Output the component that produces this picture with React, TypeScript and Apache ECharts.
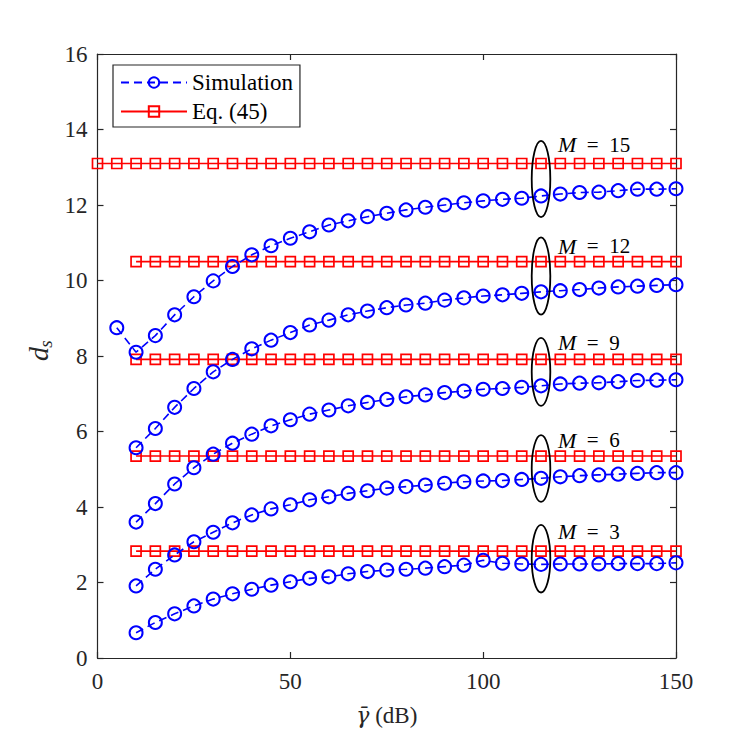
import React, { useEffect, useRef } from "react";
import * as echarts from "echarts";

const FONT = "Liberation Serif";

// x grid for the simulation curves (M = 15 also has a point at 5)
const simX = [10, 15, 20, 25, 30, 35, 40, 45, 50, 55, 60, 65, 70, 75, 80, 85, 90, 95, 100, 105, 110, 115, 120, 125, 130, 135, 140, 145, 150];
const simX15 = [5, 10, 15, 20, 25, 30, 35, 40, 45, 50, 55, 60, 65, 70, 75, 80, 85, 90, 95, 100, 105, 110, 115, 120, 125, 130, 135, 140, 145, 150];

const simM3 = [0.67, 0.94, 1.17, 1.38, 1.56, 1.70, 1.82, 1.93, 2.02, 2.11, 2.15, 2.23, 2.29, 2.33, 2.35, 2.38, 2.42, 2.46, 2.59, 2.51, 2.49, 2.48, 2.49, 2.49, 2.49, 2.50, 2.50, 2.50, 2.52];
const simM6 = [1.91, 2.35, 2.73, 3.08, 3.33, 3.58, 3.79, 3.95, 4.06, 4.19, 4.27, 4.36, 4.43, 4.50, 4.54, 4.58, 4.63, 4.67, 4.69, 4.70, 4.73, 4.76, 4.80, 4.83, 4.85, 4.87, 4.89, 4.91, 4.91];
const simM9 = [3.60, 4.09, 4.61, 5.04, 5.40, 5.69, 5.93, 6.15, 6.31, 6.46, 6.57, 6.68, 6.77, 6.85, 6.92, 6.97, 7.03, 7.07, 7.12, 7.14, 7.17, 7.21, 7.26, 7.28, 7.29, 7.32, 7.35, 7.36, 7.37];
const simM12 = [5.57, 6.08, 6.64, 7.14, 7.58, 7.91, 8.19, 8.42, 8.62, 8.82, 8.95, 9.09, 9.19, 9.28, 9.35, 9.40, 9.48, 9.54, 9.59, 9.62, 9.66, 9.70, 9.73, 9.76, 9.80, 9.83, 9.85, 9.87, 9.89];
const simM15 = [8.75, 8.10, 8.54, 9.09, 9.57, 9.99, 10.37, 10.68, 10.92, 11.12, 11.29, 11.47, 11.58, 11.69, 11.78, 11.87, 11.94, 12.00, 12.06, 12.11, 12.15, 12.18, 12.24, 12.29, 12.33, 12.34, 12.38, 12.42, 12.42, 12.43];

// Eq. (45): constant values per M, sampled on the grid below
const eqX = [0, 5, 10, 15, 20, 25, 30, 35, 40, 45, 50, 55, 60, 65, 70, 75, 80, 85, 90, 95, 100, 105, 110, 115, 120, 125, 130, 135, 140, 145, 150];
const mValues = ["3", "6", "9", "12", "15"];
const eqValues = [2.83, 5.35, 7.91, 10.50, 13.10];
const eqStartX = [10, 10, 10, 10, 0];

// annotation ellipses (data coords) and labels
const ellipseX = [115, 115, 115, 115, 115];
const ellipseY = [2.63, 5.02, 7.58, 10.12, 12.69];
const ellipseH = [1.79, 1.77, 1.80, 2.05, 2.02];
const labelX = [119.4, 119.4, 119.4, 119.4, 119.4];
const labelY = [3.35, 5.77, 8.35, 10.91, 13.59];

const xTicks = { min: 0, max: 150, interval: 50 };
const yTicks = { min: 0, max: 16, interval: 2 };

const AXIS = "#262626";
const BLUE = "#0000ff";
const RED = "#ff0000";

export default function App() {
  const ref = useRef<HTMLDivElement>(null);
  useEffect(() => {
    if (!ref.current) return;
    const chart = echarts.init(ref.current, null, { renderer: "svg" });

    const simSets: [number[], number[]][] = [
      [simX, simM3],
      [simX, simM6],
      [simX, simM9],
      [simX, simM12],
      [simX15, simM15],
    ];

    const eqSeries = eqValues.map((v, i) => ({
      type: "line",
      name: "Eq. (45)",
      data: eqX.filter((x) => x >= eqStartX[i]).map((x) => [x, v]),
      symbol: "rect",
      symbolSize: 10,
      showAllSymbol: true,
      lineStyle: { color: RED, width: 1.6 },
      itemStyle: { color: "rgba(0,0,0,0)", borderColor: RED, borderWidth: 1.7 },
      emphasis: { disabled: true },
      z: 2,
    }));

    const simSeries = simSets.map(([xs, ys]) => ({
      type: "line",
      name: "Simulation",
      data: xs.map((x, j) => [x, ys[j]]),
      symbol: "circle",
      symbolSize: 13,
      showAllSymbol: true,
      lineStyle: { color: BLUE, width: 1.6, type: [8, 5] },
      itemStyle: { color: "rgba(0,0,0,0)", borderColor: BLUE, borderWidth: 2 },
      emphasis: { disabled: true },
      z: 3,
    }));

    const ellipseSeries = {
      type: "custom",
      name: "ellipses",
      coordinateSystem: "cartesian2d",
      data: ellipseX.map((x, i) => [x, ellipseY[i], ellipseH[i]]),
      renderItem: (params: any, api: any) => {
        const c = api.coord([api.value(0), api.value(1)]);
        const t = api.coord([api.value(0), api.value(1) + api.value(2) / 2]);
        return {
          type: "ellipse",
          shape: { cx: c[0], cy: c[1], rx: 9.3, ry: c[1] - t[1] },
          style: { fill: "none", stroke: "#000", lineWidth: 1.8 },
        };
      },
      z: 4,
      silent: true,
    };

    const labelSeries = {
      type: "custom",
      name: "labels",
      coordinateSystem: "cartesian2d",
      data: labelX.map((x, i) => [x, labelY[i]]),
      renderItem: (params: any, api: any) => {
        const c = api.coord([api.value(0), api.value(1)]);
        const m = mValues[params.dataIndex];
        return {
          type: "text",
          x: c[0],
          y: c[1],
          style: {
            text: "{m|M}  =  " + m,
            rich: { m: { fontStyle: "italic", fontFamily: FONT, fontSize: 22, fill: "#000" } },
            fontFamily: FONT,
            fontSize: 21,
            fill: "#000",
            align: "left",
            verticalAlign: "middle",
          },
        };
      },
      z: 5,
      silent: true,
    };

    const baseAxis = {
      type: "value",
      axisLine: { show: true, onZero: false, lineStyle: { color: AXIS, width: 1.2 } },
      axisTick: { show: true, inside: true, length: 6, lineStyle: { color: AXIS, width: 1.2 } },
      splitLine: { show: false },
    };

    chart.setOption({
      animation: false,
      backgroundColor: "#fff",
      grid: { left: 97.5, right: 71, top: 54, bottom: 81, containLabel: false },
      xAxis: [
        {
          ...baseAxis,
          ...xTicks,
          position: "bottom",
          axisLabel: { fontFamily: FONT, fontSize: 23, color: AXIS, margin: 12 },
          name: "{g|γ̄} (dB)",
          nameLocation: "middle",
          nameGap: 46,
          nameTextStyle: {
            fontFamily: FONT,
            fontSize: 23,
            color: AXIS,
            rich: { g: { fontFamily: "DejaVu Serif", fontSize: 22, fontStyle: "italic", color: AXIS } },
          },
        },
        { ...baseAxis, ...xTicks, position: "top", axisLabel: { show: false } },
      ],
      yAxis: [
        {
          ...baseAxis,
          ...yTicks,
          position: "left",
          axisLabel: { fontFamily: FONT, fontSize: 23, color: AXIS, margin: 10 },
        },
        { ...baseAxis, ...yTicks, position: "right", axisLabel: { show: false } },
      ],
      legend: {
        data: ["Simulation", "Eq. (45)"],
        orient: "vertical",
        left: 113,
        top: 65,
        itemWidth: 66,
        itemHeight: 13,
        itemGap: 6,
        padding: [6, 7, 4, 7],
        borderColor: AXIS,
        borderWidth: 1.2,
        backgroundColor: "#fff",
        selectedMode: false,
        textStyle: { fontFamily: FONT, fontSize: 23, color: "#000" },
      },
      graphic: [
        {
          type: "group",
          x: 38,
          y: 354,
          rotation: Math.PI / 2,
          children: [
            {
              type: "text",
              x: 0,
              y: 0,
              style: {
                text: "d",
                fontFamily: FONT,
                fontStyle: "italic",
                fontSize: 28,
                fill: AXIS,
                align: "center",
                verticalAlign: "middle",
              },
            },
            {
              type: "text",
              x: 10,
              y: 7,
              style: {
                text: "s",
                fontFamily: FONT,
                fontStyle: "italic",
                fontSize: 19,
                fill: AXIS,
                align: "center",
                verticalAlign: "middle",
              },
            },
          ],
        },
      ],
      series: [...eqSeries, ...simSeries, ellipseSeries, labelSeries],
    });

    return () => chart.dispose();
  }, []);

  return (
    <div
      ref={ref}
      style={{ position: "fixed", left: 0, top: 0, width: 747, height: 739 }}
    />
  );
}
